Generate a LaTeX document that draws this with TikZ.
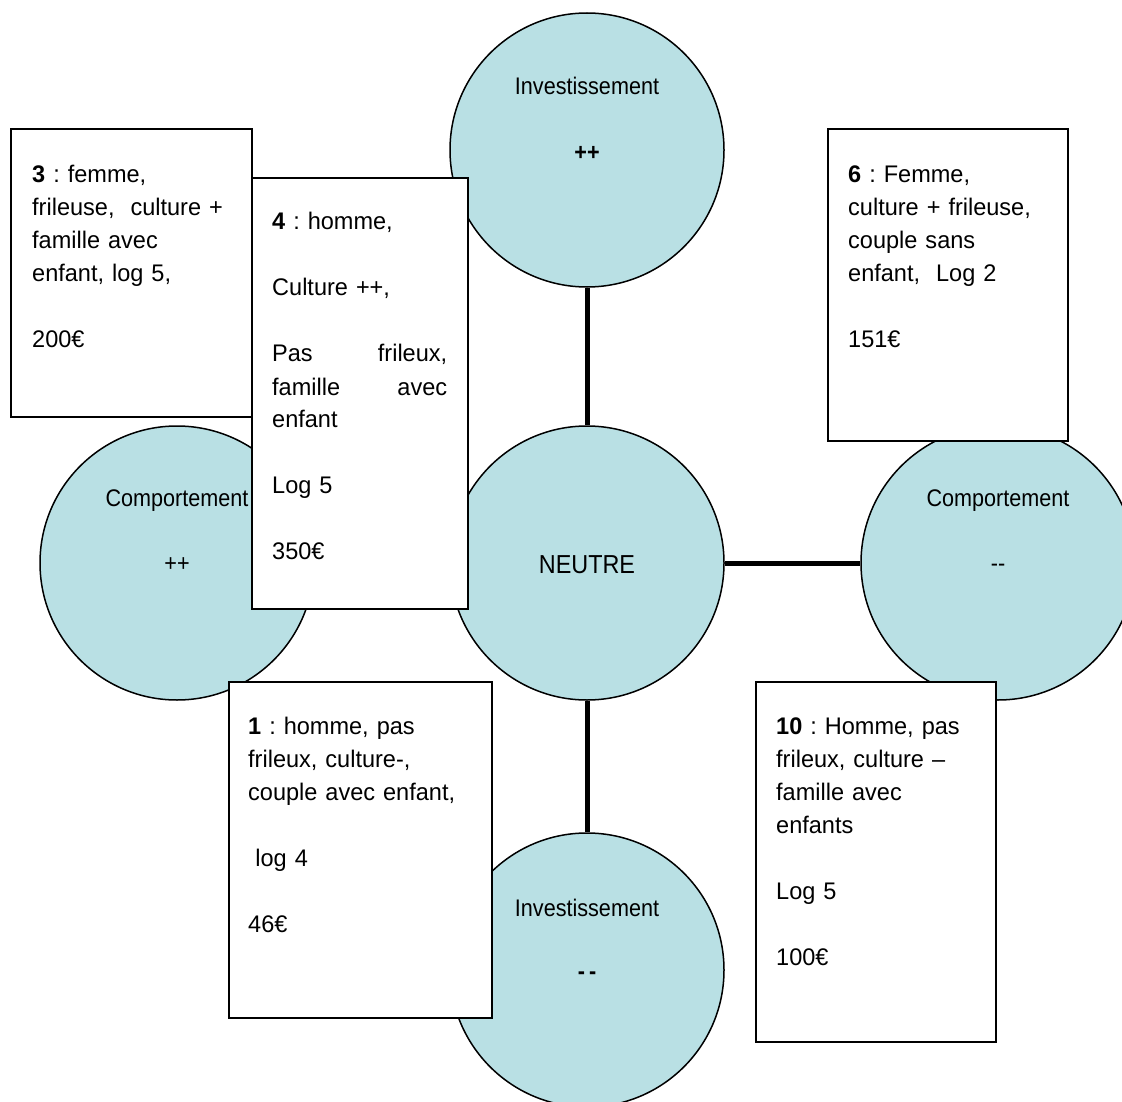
\documentclass[tikz,border=0pt]{standalone}
\usepackage{fontspec}
\setmainfont{Liberation Sans}
\newfontfamily\boxfont{Liberation Sans}[FakeStretch=0.98]
\newfontfamily\circfont{Liberation Sans}[FakeStretch=0.9]
\definecolor{circfill}{RGB}{185,224,228}
\frenchspacing
\begin{document}
\begin{tikzpicture}[x=1pt,y=-1pt,
  bubble/.style={circle, draw=black, line width=1.5pt, fill=circfill, minimum size=274pt, inner sep=0pt},
  conn/.style={line width=5pt},
  card/.style={draw=black, line width=1.8pt, fill=white, anchor=north west, inner sep=0pt},
  cardtext/.style={anchor=base west, inner sep=0pt, align=left, text width=240pt, font=\boxfont\fontsize{24}{33}\selectfont\frenchspacing},
  lbl/.style={inner sep=0pt, font=\circfont\fontsize{24}{28}\selectfont, anchor=base},
  sign/.style={inner sep=0pt, font=\circfont\fontsize{24}{28}\selectfont, anchor=center}
]
\useasboundingbox (0,0) rectangle (1122,1102);
\clip (0,0) rectangle (1122,1102);
% circles
\node[bubble] (top) at (587,150) {};
\node[bubble] (ctr) at (587,563) {};
\node[bubble] (lft) at (177,563) {};
\node[bubble] (rgt) at (998,563) {};
\node[bubble] (bot) at (587,970) {};
% connectors
\draw[conn] (top) -- (ctr);
\draw[conn] (ctr) -- (rgt);
\draw[conn] (ctr) -- (bot);
% circle labels
\node[lbl] (topl) at (587,95) {Investissement};
\node[sign] (tops) at (587,153) {\bfseries ++};
\node[lbl] (lftl) at (177,506) {Comportement};
\node[sign] (lfts) at (177,565) {++};
\node[lbl] (rgtl) at (998,506) {Comportement};
\node[sign] (rgts) at (998,568) {-{}-};
\node[lbl] (botl) at (587,916) {Investissement};
\node[sign] (bots) at (587,976) {\bfseries -\,-};
\node[inner sep=0pt, anchor=base, font=\circfont\fontsize{26}{30}\selectfont] (ctrl) at (587,573) {NEUTRE};
% cards
\node[card, minimum width=241pt, minimum height=288pt] (b3) at (10,128) {};
\node[cardtext] (t3) at (32,183) {\textbf{3} : femme,\\ frileuse, \ culture +\\ famille avec\\ enfant, log 5,\\[33pt] 200€};
\node[card, minimum width=216pt, minimum height=431pt] (b4) at (251,177) {};
\node[cardtext, text width=175pt] (t4) at (272,230) {\textbf{4} : homme,\\[33pt] Culture ++,\\[33pt] \leavevmode\hbox to 175pt{Pas\hfill frileux,}\\ \leavevmode\hbox to 175pt{famille\hfill avec}\\ enfant\\[33pt] Log 5\\[33pt] 350€};
\node[card, minimum width=240pt, minimum height=312pt] (b6) at (827,128) {};
\node[cardtext] (t6) at (848,183) {\textbf{6} : Femme,\\ culture + frileuse,\\ couple sans\\ enfant, \ Log 2\\[33pt] 151€};
\node[card, minimum width=263pt, minimum height=336pt] (b1) at (228,681) {};
\node[cardtext] (t1) at (248,734) {\textbf{1} : homme, pas\\ frileux, culture-,\\ couple avec enfant,\\[33pt] \hspace*{0.3em}log 4\\[33pt] 46€};
\node[card, minimum width=240pt, minimum height=360pt] (b10) at (755,681) {};
\node[cardtext] (t10) at (776,734) {\textbf{10} : Homme, pas\\ frileux, culture –\\ famille avec\\ enfants\\[33pt] Log 5\\[33pt] 100€};
\end{tikzpicture}
\end{document}
